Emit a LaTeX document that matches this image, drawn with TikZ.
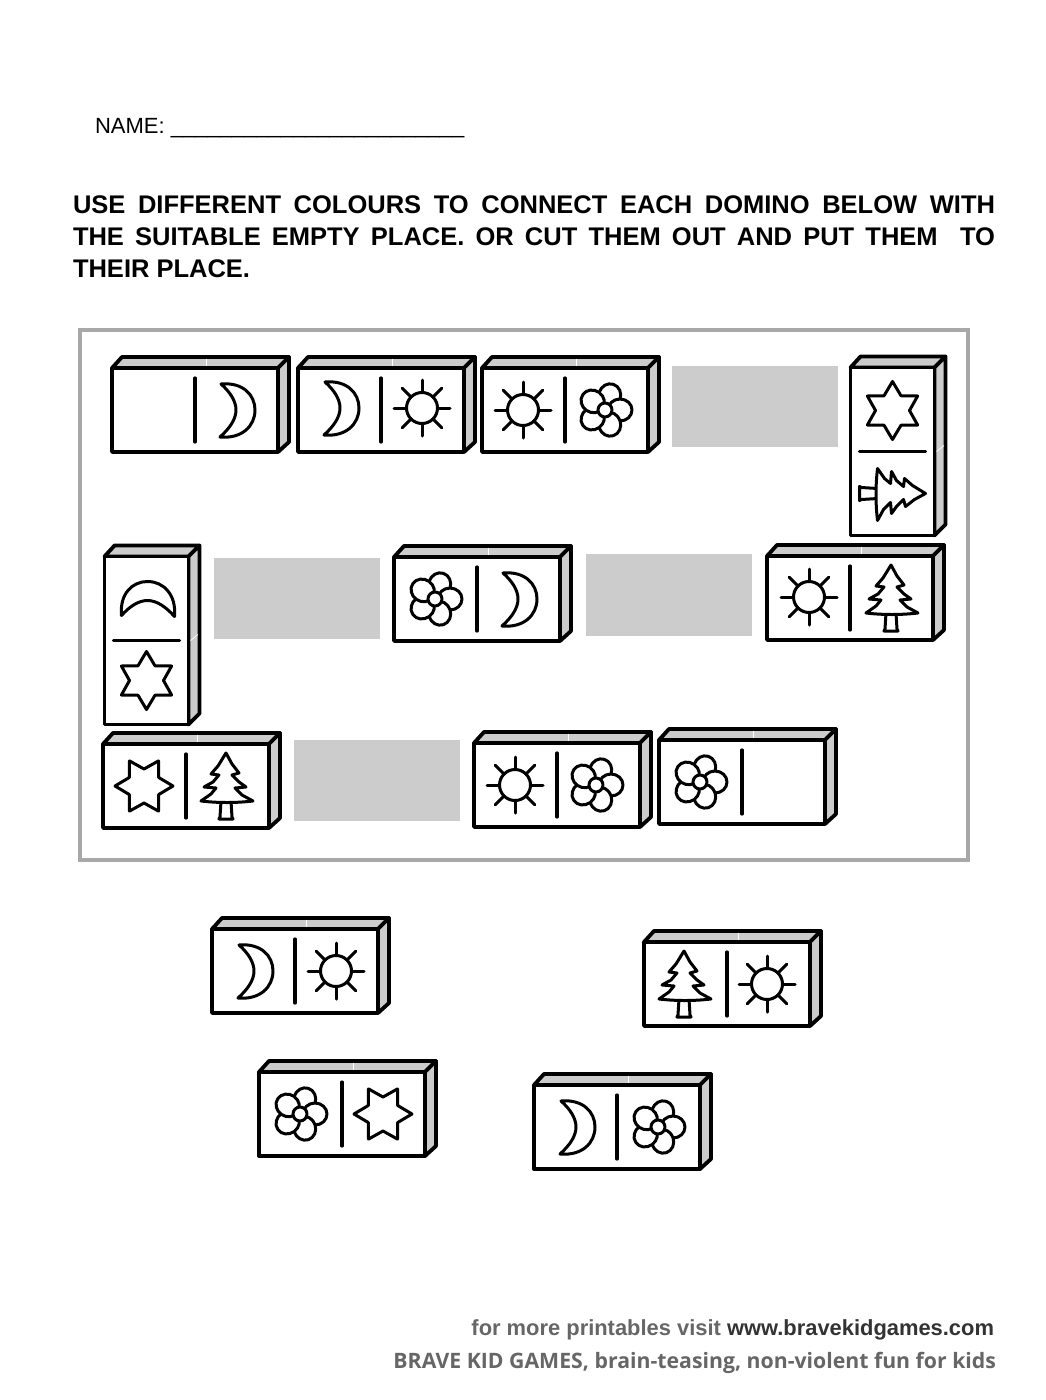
\documentclass[tikz,border=0pt]{standalone}
\usepackage{fontspec}
\setmainfont{Liberation Sans}
\newfontfamily\footfont{Open Sans}
\definecolor{facegray}{HTML}{CCCCCC}
\definecolor{framegray}{HTML}{A8A8A8}
\definecolor{footgray}{HTML}{666666}
\definecolor{footdark}{HTML}{333333}
\tikzset{
  x=1pt,y=-1pt,
  sym/.style={draw=black,line width=3pt,line join=round,line cap=round,fill=white},
  symline/.style={draw=black,line width=3pt,line cap=round},
  face/.style={draw=black,line width=3.8pt,line join=round,fill=white},
  sideface/.style={draw=black,line width=3.8pt,line join=round,fill=facegray},
  divider/.style={draw=black,line width=3.2pt,line cap=round},
  seam/.style={draw=white,line width=0.7pt},
  slot/.style={fill=facegray,draw=none},
  label/.style={inner sep=0pt,outer sep=0pt}
}
\newcommand\symSun[2]{\begin{scope}[shift={(#1,#2)}]
  \foreach \a in {0,45,...,315}{\draw[symline] (\a:17) -- (\a:28);}
  \draw[sym] (0,0) circle[radius=15.5];
\end{scope}}
\newcommand\symMoon[3]{\begin{scope}[shift={(#1,#2)},rotate=#3]
  \draw[sym] (-15,-26) .. controls (7,-28) and (19,-15) .. (19,0)
    .. controls (19,16) and (6,29) .. (-16,27)
    .. controls (-6,18) and (0,9) .. (0,0)
    .. controls (0,-9) and (-6,-18) .. cycle;
\end{scope}}
\newcommand\symFlower[2]{\begin{scope}[shift={(#1,#2)}]
  \foreach \a in {-72,0,72,145,215}{\draw[sym,shift={(\a:15)},rotate=-\a] (0,0) ellipse[x radius=12,y radius=11];}
  \draw[sym] (0,0) circle[radius=7];
\end{scope}}
\newcommand\symStar[3]{\begin{scope}[shift={(#1,#2)},rotate=#3]
  \draw[sym] (-90:29) -- (-60:17) -- (-30:29) -- (0:17) -- (30:29) -- (60:17) -- (90:29) -- (120:17) -- (150:29) -- (180:17) -- (210:29) -- (240:17) -- cycle;
\end{scope}}
\newcommand\symTree[3]{\begin{scope}[shift={(#1,#2)},rotate=#3]
  \draw[sym] (-5,15) -- (-6,31) -- (-7,33) -- (7,33) -- (6,31) -- (5,15) -- cycle;
  \draw[sym] (0,-33) -- (6,-22) -- (13,-13) -- (6,-11) -- (13,-4) -- (20,1) -- (9,2) -- (16,9) -- (27,15)
    .. controls (10,17) and (-8,17) .. (-25,15)
    -- (-15,8) -- (-10,2) -- (-22,1) -- (-13,-4) -- (-7,-11) -- (-15,-12) -- (-8,-20) -- cycle;
\end{scope}}
% horizontal domino: centre, then its two symbols in local coordinates
\newcommand\dominoH[3]{\begin{scope}[shift={(#1,#2)}]
  \draw[sideface] (-83,-42) -- (-73,-53) -- (94,-53) -- (83,-42) -- cycle;
  \draw[sideface] (83,-42) -- (94,-53) -- (94,32) -- (83,42) -- cycle;
  \draw[seam] (11,-51.5) -- (11,-44);
  \draw[face] (-83,-42) rectangle (83,42);
  \draw[divider] (0,-32) -- (0,32);
  #3
\end{scope}}
\newcommand\dominoV[3]{\begin{scope}[shift={(#1,#2)}]
  \draw[sideface] (-42,-84) -- (-32,-95) -- (53,-95) -- (42,-84) -- cycle;
  \draw[sideface] (42,-84) -- (53,-95) -- (53,73) -- (42,84) -- cycle;
  \draw[seam] (44,0) -- (51.5,-6);
  \draw[face] (-42,-84) rectangle (42,84);
  \draw[divider] (-33,0) -- (33,0);
  #3
\end{scope}}
\begin{document}
\begin{tikzpicture}
\useasboundingbox (0,0) rectangle (1045,1400);
\fill[white] (0,0) rectangle (1045,1400);

\node[label,anchor=base west,font=\fontsize{22}{26}\selectfont] (name) at (95,133) {NAME: \_\_\_\_\_\_\_\_\_\_\_\_\_\_\_\_\_\_\_\_\_\_\_\_};
\node[label,anchor=base west,font=\fontsize{25.5}{30}\selectfont\bfseries] (t1) at (73,213) {\makebox[922pt][s]{USE DIFFERENT COLOURS TO CONNECT EACH DOMINO BELOW WITH}};
\node[label,anchor=base west,font=\fontsize{25.5}{30}\selectfont\bfseries] (t2) at (73,245) {\makebox[922pt][s]{THE SUITABLE EMPTY PLACE. OR CUT THEM OUT AND PUT THEM\ \ TO}};
\node[label,anchor=base west,font=\fontsize{25.5}{30}\selectfont\bfseries] (t3) at (73,277) {THEIR PLACE.};

\draw[draw=framegray,line width=3.2pt] (80,330) rectangle (968,860);

\fill[slot] (672,366) rectangle (838,447);
\fill[slot] (586,554) rectangle (752,636);
\fill[slot] (214,558) rectangle (380,639);
\fill[slot] (294,740) rectangle (460,821);

\dominoH{195}{410}{\symMoon{41}{0}{0}}
\dominoH{381}{410}{\symMoon{-41}{-2}{0}\symSun{41}{-2}}
\dominoH{565}{410}{\symSun{-42}{0}\symFlower{40}{0}}
\dominoV{892.5}{451.5}{\symStar{0}{-41}{0}\symTree{0}{42}{-90}}
\dominoH{850}{598}{\symSun{-41}{-1}\symTree{41}{0}{0}}
\dominoH{477}{599}{\symFlower{-42}{0}\symMoon{41}{0}{0}}
\dominoV{146.5}{640.5}{\symMoon{1}{-40}{90}\symStar{0}{40}{0}}
\dominoH{186}{786}{\symStar{-42}{0}{90}\symTree{40}{0}{0}}
\dominoH{557}{785}{\symSun{-42}{0}\symFlower{39}{0}}
\dominoH{742}{782}{\symFlower{-42}{0}}
\dominoH{295}{971}{\symMoon{-41}{0}{0}\symSun{41}{0}}
\dominoH{727}{984}{\symTree{-43}{0}{0}\symSun{40}{0}}
\dominoH{342}{1114}{\symFlower{-42}{0}\symStar{41}{0}{90}}
\dominoH{617}{1127}{\symMoon{-41}{0}{0}\symFlower{41}{0}}

\node[label,anchor=base east,font=\fontsize{21.9}{26}\selectfont\bfseries] (foot1) at (994,1335) {\textcolor{footgray}{for more printables visit} \textcolor{footdark}{www.bravekidgames.com}};
\node[label,anchor=base east,font=\footfont\fontsize{21.25}{26}\selectfont\bfseries,text=footgray] (foot2) at (996,1368) {BRAVE KID GAMES, brain-teasing, non-violent fun for kids};
\end{tikzpicture}
\end{document}
